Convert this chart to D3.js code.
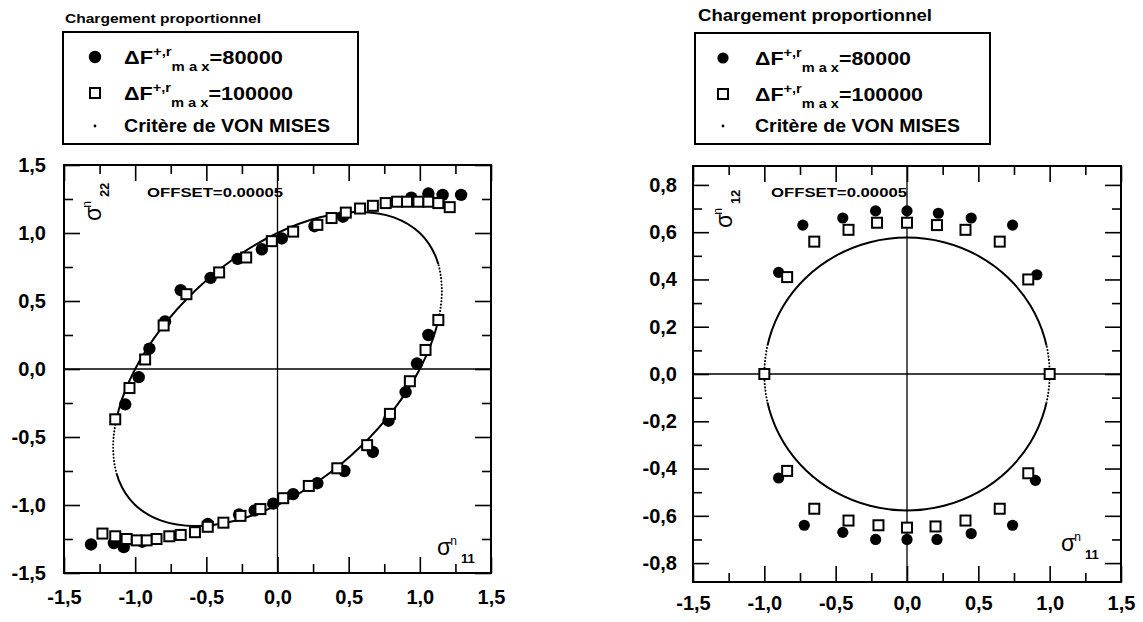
<!DOCTYPE html>
<html><head><meta charset="utf-8">
<script src="https://cdn.jsdelivr.net/npm/d3@7"></script>
<style>
body{margin:0;background:#fff;}
svg{display:block;}
text{font-family:"Liberation Sans", Arial, sans-serif; fill:#000;}
</style></head><body>
<svg id="chart" width="1143" height="622"></svg>
<script>
// ---------------- DATA ----------------
// Left chart : sigma11 vs sigma22
const leftCircles = [
  [-1.07,-0.26],[-0.975,-0.06],[-0.90,0.15],[-0.79,0.35],[-0.68,0.58],[-0.47,0.67],[-0.28,0.81],
  [-0.11,0.88],[0.03,0.96],[0.26,1.05],[0.46,1.12],[0.94,1.26],[1.06,1.29],[1.16,1.28],[1.29,1.28],
  [-1.31,-1.29],[-1.15,-1.28],[-1.08,-1.31],[-0.95,-1.27],[-0.49,-1.14],[-0.27,-1.07],[-0.16,-1.04],
  [-0.03,-0.99],[0.11,-0.92],[0.28,-0.84],[0.47,-0.75],[0.67,-0.61],[0.78,-0.38],[0.90,-0.17],
  [0.98,0.04],[1.06,0.25]
];
const leftSquares = [
  [-1.14,-0.37],[-1.04,-0.14],[-0.93,0.07],[-0.80,0.32],[-0.64,0.55],[-0.41,0.71],[-0.22,0.82],
  [-0.04,0.94],[0.11,1.01],[0.28,1.06],[0.38,1.11],[0.48,1.15],[0.58,1.18],[0.67,1.20],[0.76,1.22],
  [0.84,1.23],[0.91,1.23],[0.99,1.23],[1.06,1.23],[1.13,1.22],[1.21,1.19],
  [1.13,0.36],[1.04,0.14],[0.93,-0.09],[0.79,-0.33],[0.63,-0.56],[0.42,-0.73],[0.22,-0.86],
  [0.04,-0.95],[-0.12,-1.03],[-0.26,-1.08],[-0.38,-1.13],[-0.49,-1.16],[-0.58,-1.20],[-0.68,-1.22],
  [-0.76,-1.23],[-0.85,-1.25],[-0.92,-1.26],[-0.99,-1.26],[-1.06,-1.25],[-1.14,-1.23],[-1.23,-1.21]
];
// Von Mises yield locus
const leftVonMises = [
  [1.0,1.0],[0.8165,1.1153],[0.5773,1.1547],[0.2989,1.1153],[0.0,1.0],[-0.2989,0.8165],
  [-0.5774,0.5774],[-0.8165,0.2989],[-1.0,0.0],[-1.1153,-0.2989],[-1.1547,-0.5773],[-1.1153,-0.8165],
  [-1.0,-1.0],[-0.8165,-1.1153],[-0.5773,-1.1547],[-0.2989,-1.1153],[0.0,-1.0],[0.2989,-0.8165],
  [0.5774,-0.5774],[0.8165,-0.2989],[1.0,0.0],[1.1153,0.2989],[1.1547,0.5773],[1.1153,0.8165]
];
// Right chart : sigma11 vs sigma12
const rightCircles = [
  [-0.90,0.43],[-0.73,0.63],[-0.45,0.66],[-0.22,0.69],[0.0,0.69],[0.22,0.68],[0.45,0.66],[0.74,0.63],[0.91,0.42],
  [-0.90,-0.44],[-0.72,-0.64],[-0.45,-0.67],[-0.22,-0.70],[0.0,-0.70],[0.21,-0.70],[0.45,-0.675],[0.74,-0.64],[0.90,-0.45]
];
const rightSquares = [
  [-1.0,0.0],[-0.84,0.41],[-0.65,0.56],[-0.41,0.61],[-0.21,0.64],[0.0,0.64],[0.21,0.63],[0.41,0.61],[0.65,0.56],[0.85,0.40],[1.0,0.0],
  [-0.84,-0.41],[-0.65,-0.57],[-0.41,-0.62],[-0.20,-0.64],[0.0,-0.65],[0.20,-0.645],[0.41,-0.62],[0.65,-0.57],[0.85,-0.42]
];
const rightVonMises = [
  [1.0,0.0],[0.9659,0.1494],[0.866,0.2887],[0.7071,0.4082],[0.5,0.5],[0.2588,0.5577],[0.0,0.5774],
  [-0.2588,0.5577],[-0.5,0.5],[-0.7071,0.4082],[-0.866,0.2887],[-0.9659,0.1494],[-1.0,0.0],
  [-0.9659,-0.1494],[-0.866,-0.2887],[-0.7071,-0.4082],[-0.5,-0.5],[-0.2588,-0.5577],[0.0,-0.5774],
  [0.2588,-0.5577],[0.5,-0.5],[0.7071,-0.4082],[0.866,-0.2887],[0.9659,-0.1494]
];
// ticks
const xMajor = [-1.5,-1.0,-0.5,0.0,0.5,1.0,1.5];
const xMinor = [-1.25,-0.75,-0.25,0.25,0.75,1.25];
const yMajorLeft = [-1.5,-1.0,-0.5,0.0,0.5,1.0,1.5];
const yMinorLeft = [-1.25,-0.75,-0.25,0.25,0.75,1.25];
const yMajorRight = [-0.8,-0.6,-0.4,-0.2,0.0,0.2,0.4,0.6,0.8];
const yMinorRight = [-0.7,-0.5,-0.3,-0.1,0.1,0.3,0.5,0.7];
// texts
const titleText = "Chargement proportionnel";
const legendLabels = [
  {base:"\u0394F", sup:"+,r", sub:"m a x", tail:"=80000"},
  {base:"\u0394F", sup:"+,r", sub:"m a x", tail:"=100000"},
  {base:"Crit\u00e8re de VON MISES"}
];
const offsetText = "OFFSET=0.00005";

// ---------------- DRAW ----------------
const svg = d3.select("#chart");
const fmt = d3.formatLocale({decimal:",", thousands:".", grouping:[3], currency:["",""], minus:"-"}).format(".1f");

function panel(cfg){
  const g = svg.append("g");
  const x = cfg.x, y = cfg.y;
  const [X0,X1] = x.range(), [Y0,Y1] = y.range(); // Y0 bottom, Y1 top
  const id = cfg.id;

  // title + legend
  g.append("text").attr("x",cfg.title[0]).attr("y",cfg.title[1])
    .attr("font-weight","bold").attr("font-size",cfg.title[2])
    .attr("textLength",cfg.title[3]).attr("lengthAdjust","spacingAndGlyphs").text(titleText);
  const L = cfg.legend;
  g.append("rect").attr("x",L.x).attr("y",L.y).attr("width",L.w).attr("height",L.h)
    .attr("fill","none").attr("stroke","#000").attr("stroke-width",2);
  legendLabels.forEach((lab,i)=>{
    const by = L.rows[i];
    const t = g.append("text").attr("x",L.tx).attr("y",by).attr("font-size",L.fs).attr("font-weight","bold")
      .attr("textLength",L.widths[i]).attr("lengthAdjust","spacingAndGlyphs");
    t.append("tspan").text(lab.base);
    if(lab.sup){
      t.append("tspan").attr("dy",-8).attr("font-size",L.fs*0.68).text(lab.sup);
      t.append("tspan").attr("dy",15).attr("font-size",L.fs*0.68).text(lab.sub);
      t.append("tspan").attr("dy",-7).text(lab.tail);
    }
  });
  g.append("circle").attr("cx",L.mx).attr("cy",L.rows[0]-7).attr("r",cfg.cr);
  g.append("rect").attr("x",L.mx-cfg.sq/2).attr("y",L.rows[1]-7-cfg.sq/2).attr("width",cfg.sq).attr("height",cfg.sq)
    .attr("fill","#fff").attr("stroke","#000").attr("stroke-width",2);
  g.append("circle").attr("cx",L.mx).attr("cy",L.rows[2]-6).attr("r",1.4);

  // axes ticks (all four sides, inward)
  const styleAx = a => { a.select(".domain").remove();
    a.attr("font-family","'Liberation Sans', Arial, sans-serif").attr("font-size",20).attr("font-weight","bold");
    a.selectAll("line").attr("stroke-width",1.6); a.selectAll("text").attr("fill","#000"); };
  g.append("g").attr("transform",`translate(${X0},0)`)
    .call(d3.axisLeft(y).tickValues(cfg.yMajor).tickSize(-16).tickPadding(cfg.padL).tickFormat(fmt)).call(styleAx);
  g.append("g").attr("transform",`translate(${X0},0)`)
    .call(d3.axisLeft(y).tickValues(cfg.yMinor).tickSize(-9).tickFormat("")).call(styleAx);
  g.append("g").attr("transform",`translate(${X1},0)`)
    .call(d3.axisRight(y).tickValues(cfg.yMajor).tickSize(-16).tickFormat("")).call(styleAx);
  g.append("g").attr("transform",`translate(${X1},0)`)
    .call(d3.axisRight(y).tickValues(cfg.yMinor).tickSize(-9).tickFormat("")).call(styleAx);
  g.append("g").attr("transform",`translate(0,${Y0})`)
    .call(d3.axisBottom(x).tickValues(xMajor).tickSize(-16).tickPadding(cfg.padB).tickFormat(fmt)).call(styleAx);
  g.append("g").attr("transform",`translate(0,${Y0})`)
    .call(d3.axisBottom(x).tickValues(xMinor).tickSize(-9).tickFormat("")).call(styleAx);
  g.append("g").attr("transform",`translate(0,${Y1})`)
    .call(d3.axisTop(x).tickValues(xMajor).tickSize(-16).tickFormat("")).call(styleAx);
  g.append("g").attr("transform",`translate(0,${Y1})`)
    .call(d3.axisTop(x).tickValues(xMinor).tickSize(-9).tickFormat("")).call(styleAx);

  // frame and zero lines
  g.append("rect").attr("x",X0).attr("y",Y1).attr("width",X1-X0).attr("height",Y0-Y1)
    .attr("fill","none").attr("stroke","#000").attr("stroke-width",2);
  g.append("line").attr("x1",X0).attr("x2",X1).attr("y1",y(0)).attr("y2",y(0)).attr("stroke","#000").attr("stroke-width",1.6);
  g.append("line").attr("x1",x(0)).attr("x2",x(0)).attr("y1",Y0).attr("y2",Y1).attr("stroke","#000").attr("stroke-width",1.3);

  // von Mises curve: solid, with dotted parts near the vertical tangents
  const defs = svg.append("defs");
  const mask = defs.append("mask").attr("id","m"+id);
  mask.append("rect").attr("x",0).attr("y",0).attr("width",1143).attr("height",622).attr("fill","#fff");
  const clip = defs.append("clipPath").attr("id","c"+id);
  cfg.dotBands.forEach(b=>{
    const r = {x:x(b[0]), y:y(b[3]), w:x(b[1])-x(b[0]), h:y(b[2])-y(b[3])};
    mask.append("rect").attr("x",r.x).attr("y",r.y).attr("width",r.w).attr("height",r.h).attr("fill","#000");
    clip.append("rect").attr("x",r.x).attr("y",r.y).attr("width",r.w).attr("height",r.h);
  });
  const line = d3.line().x(d=>x(d[0])).y(d=>y(d[1])).curve(d3.curveCatmullRomClosed.alpha(0.5));
  g.append("path").attr("d",line(cfg.vm)).attr("fill","none").attr("stroke","#000").attr("stroke-width",2)
    .attr("mask",`url(#m${id})`);
  g.append("path").attr("d",line(cfg.vm)).attr("fill","none").attr("stroke","#000").attr("stroke-width",2)
    .attr("stroke-dasharray","0.1,3.2").attr("stroke-linecap","round").attr("clip-path",`url(#c${id})`);

  // data
  g.append("g").selectAll("circle").data(cfg.circles).join("circle")
    .attr("cx",d=>x(d[0])).attr("cy",d=>y(d[1])).attr("r",cfg.cr).attr("fill","#000");
  g.append("g").selectAll("rect").data(cfg.squares).join("rect")
    .attr("x",d=>x(d[0])-cfg.sq/2).attr("y",d=>y(d[1])-cfg.sq/2).attr("width",cfg.sq).attr("height",cfg.sq)
    .attr("fill","#fff").attr("stroke","#000").attr("stroke-width",2);

  // OFFSET
  g.append("text").attr("x",cfg.off[0]).attr("y",cfg.off[1]).attr("font-weight","bold").attr("font-size",12)
    .attr("textLength",136).attr("lengthAdjust","spacingAndGlyphs").text(offsetText);

  // sigma labels
  const s1 = g.append("text").attr("x",cfg.s11[0]).attr("y",cfg.s11[1]).attr("font-size",23);
  s1.append("tspan").text("\u03c3");
  s1.append("tspan").attr("dy",-10).attr("dx",-1).attr("font-size",12).text("n");
  s1.append("tspan").attr("dy",18).attr("dx",4).attr("font-size",13).attr("font-weight","bold").text("11");
  const s2 = g.append("text").attr("transform",`translate(${cfg.s22[0]},${cfg.s22[1]}) rotate(-90)`).attr("font-size",23);
  s2.append("tspan").text("\u03c3");
  s2.append("tspan").attr("dy",-10).attr("dx",-1).attr("font-size",12).text("n");
  s2.append("tspan").attr("dy",18).attr("dx",4).attr("font-size",13).attr("font-weight","bold").text(cfg.s22[2]);
}

panel({
  id:"L",
  x: d3.scaleLinear().domain([-1.5,1.5]).range([64,491]),
  y: d3.scaleLinear().domain([-1.5,1.5]).range([573,165]),
  yMajor: yMajorLeft, yMinor: yMinorLeft, padL:18, padB:17,
  circles:leftCircles, squares:leftSquares, vm:leftVonMises, cr:6.2, sq:10,
  dotBands:[[1.0,1.35,0.40,0.77],[-1.35,-1.0,-0.77,-0.40]],
  title:[65,23,12,196],
  legend:{x:63,y:32,w:295,h:112,tx:124,mx:95,fs:18,rows:[64,100,132],widths:[159,169,206]},
  off:[147,197],
  s11:[437,555], s22:[101,221,"22"]
});
panel({
  id:"R",
  x: d3.scaleLinear().domain([-1.5,1.5]).range([693,1121]),
  y: d3.scaleLinear().domain([-0.88,0.88]).range([582,166]),
  yMajor: yMajorRight, yMinor: yMinorRight, padL:16, padB:14,
  circles:rightCircles, squares:rightSquares, vm:rightVonMises, cr:5.6, sq:10,
  dotBands:[[0.9,1.2,-0.12,0.12],[-1.2,-0.9,-0.12,0.12]],
  title:[698,21,16,234],
  legend:{x:695,y:33,w:295,h:111,tx:755,mx:723,fs:18,rows:[65,101,132],widths:[156,168,205]},
  off:[771,197],
  s11:[1061,551], s22:[732,228,"12"]
});
</script>
</body></html>
